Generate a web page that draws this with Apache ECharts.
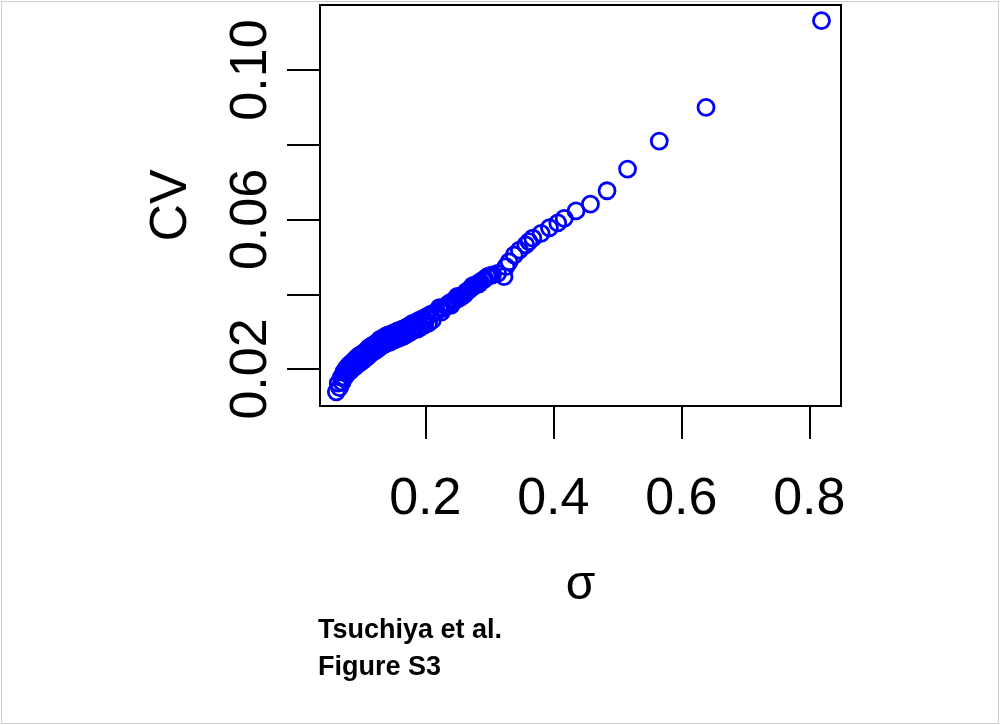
<!DOCTYPE html>
<html>
<head>
<meta charset="utf-8">
<script src="https://cdn.jsdelivr.net/npm/echarts@6/dist/echarts.min.js"></script>
<style>
  html, body { margin: 0; padding: 0; background: #fff; }
  #chart { position: absolute; left: 0; top: 0; width: 1000px; height: 725px; }
  #frame { position: absolute; left: 1px; top: 1px; width: 996px; height: 721px; border: 1px solid #cfcfcf; pointer-events: none; }
</style>
</head>
<body>
<div id="chart"></div>
<div id="frame"></div>
<script>
// sigma (x) and CV (y), one entry per circle
const sigma = [
  0.061, 0.064, 0.066, 0.069, 0.070, 0.073, 0.074, 0.077, 0.078, 0.081,
  0.083, 0.085, 0.086, 0.089, 0.090, 0.092, 0.094, 0.096, 0.098, 0.100,
  0.102, 0.104, 0.106, 0.108, 0.110, 0.112, 0.114, 0.116, 0.118, 0.120,
  0.123, 0.125, 0.127, 0.129, 0.131, 0.134, 0.136, 0.138, 0.140, 0.142,
  0.145, 0.147, 0.149, 0.151, 0.154, 0.156, 0.158, 0.160, 0.163, 0.165,
  0.167, 0.170, 0.172, 0.175, 0.177, 0.180, 0.182, 0.185, 0.188, 0.190,
  0.193, 0.196, 0.199, 0.202, 0.205, 0.208, 0.211, 0.214,
  0.080, 0.095, 0.110, 0.130, 0.150, 0.165, 0.185, 0.200,
  0.217, 0.222, 0.225, 0.227, 0.232, 0.235, 0.2375, 0.240, 0.243, 0.245,
  0.248, 0.250, 0.252, 0.256, 0.260, 0.262, 0.264, 0.268, 0.271, 0.274,
  0.276, 0.279, 0.282, 0.284, 0.286, 0.290, 0.293, 0.297,
  0.301, 0.305, 0.313, 0.323, 0.326, 0.331, 0.339, 0.347, 0.357, 0.362,
  0.368, 0.381, 0.394, 0.407, 0.417, 0.4355, 0.458, 0.484, 0.516, 0.5656,
  0.6386, 0.819
];
const cv = [
  0.0139, 0.0162, 0.0150, 0.0178, 0.0165, 0.0193, 0.0178, 0.0203, 0.0188, 0.0211,
  0.0195, 0.0217, 0.0201, 0.0223, 0.0206, 0.0229, 0.0212, 0.0235, 0.0217, 0.0239,
  0.0222, 0.0244, 0.0228, 0.0250, 0.0233, 0.0257, 0.0240, 0.0262, 0.0245, 0.0266,
  0.0250, 0.0272, 0.0255, 0.0279, 0.0261, 0.0283, 0.0265, 0.0288, 0.0269, 0.0291,
  0.0272, 0.0293, 0.0276, 0.0297, 0.0279, 0.0301, 0.0282, 0.0304, 0.0286, 0.0307,
  0.0289, 0.0311, 0.0294, 0.0316, 0.0299, 0.0322, 0.0305, 0.0325, 0.0307, 0.0330,
  0.0312, 0.0335, 0.0318, 0.0340, 0.0323, 0.0346, 0.0331, 0.0350,
  0.0200, 0.0222, 0.0243, 0.0270, 0.0286, 0.0298, 0.0315, 0.0329,
  0.0353, 0.0364, 0.0352, 0.0362, 0.0369, 0.0371, 0.0376, 0.0370, 0.0381, 0.0384,
  0.0385, 0.0394, 0.0389, 0.0393, 0.0398, 0.0401, 0.0407, 0.0411, 0.0416, 0.0423,
  0.0422, 0.0425, 0.0429, 0.0428, 0.0433, 0.0438, 0.0441, 0.0447,
  0.0450, 0.0452, 0.0456, 0.0447, 0.0474, 0.0487, 0.0505, 0.0518, 0.0532, 0.0541,
  0.0550, 0.0563, 0.0578, 0.0591, 0.0603, 0.0623, 0.0641, 0.0677, 0.0735, 0.0810,
  0.0900, 0.1132
];
const xTicks = [0.2, 0.4, 0.6, 0.8];
const yTicks = [0.02, 0.04, 0.06, 0.08, 0.10];
const yLabels = [0.02, 0.06, 0.10];

const chart = echarts.init(document.getElementById('chart'), null, { renderer: 'canvas' });
const font = 'Liberation Sans, Arial, sans-serif';

chart.setOption({
  animation: false,
  backgroundColor: '#fff',
  title: {
    text: 'Tsuchiya et al.\nFigure S3',
    left: 318,
    top: 612,
    padding: 0,
    textStyle: { fontFamily: font, fontSize: 27, fontWeight: 'bold', color: '#000', lineHeight: 37 },
  },
  grid: {
    left: 320, right: 159, top: 5, bottom: 319,
    show: true, borderColor: '#000', borderWidth: 2, backgroundColor: 'transparent',
  },
  xAxis: {
    type: 'value',
    min: 0.0355,
    max: 0.8495,
    name: 'σ',
    nameLocation: 'middle',
    nameGap: 156,
    nameTextStyle: { fontFamily: font, fontSize: 48, color: '#000' },
    axisLine: { show: false },
    splitLine: { show: false },
    axisTick: { show: true, customValues: xTicks, length: 33, lineStyle: { color: '#000', width: 2 } },
    axisLabel: {
      customValues: xTicks, margin: 68, fontFamily: font, fontSize: 52, color: '#000',
      formatter: v => v.toFixed(1),
    },
  },
  yAxis: {
    type: 'value',
    min: 0.0101,
    max: 0.1174,
    name: 'CV',
    nameLocation: 'middle',
    nameGap: 122,
    nameRotate: 90,
    nameTextStyle: { fontFamily: font, fontSize: 52, color: '#000' },
    axisLine: { show: false },
    splitLine: { show: false },
    axisTick: { show: true, customValues: yTicks, length: 33, lineStyle: { color: '#000', width: 2 } },
    axisLabel: {
      customValues: yLabels, rotate: 90, margin: 42, fontFamily: font, fontSize: 52, color: '#000',
      formatter: v => v.toFixed(2),
    },
  },
  series: [{
    type: 'scatter',
    data: sigma.map((s, i) => [s, cv[i]]),
    symbol: 'circle',
    symbolSize: 16,
    itemStyle: { color: 'rgba(0,0,0,0)', borderColor: '#0000ff', borderWidth: 2.8, opacity: 1 },
  }],
});
</script>
</body>
</html>
